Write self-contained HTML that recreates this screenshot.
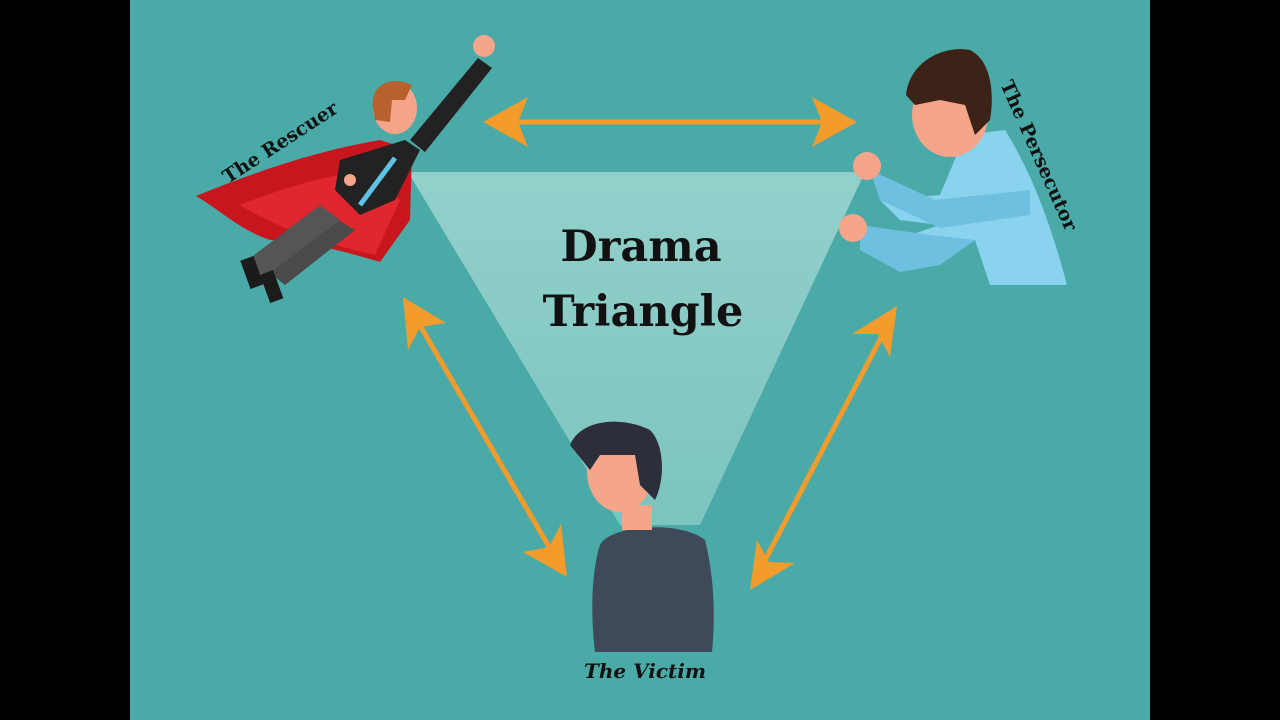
<!DOCTYPE html>
<html><head><meta charset="utf-8"><style>
html,body{margin:0;padding:0;background:#000;width:1280px;height:720px;overflow:hidden}
svg{display:block}
text{font-family:"DejaVu Serif","Liberation Serif",serif;font-weight:bold}
</style></head><body>
<svg width="1280" height="720" viewBox="0 0 1280 720">
<defs>
<linearGradient id="tg" x1="0" y1="0" x2="0" y2="1">
<stop offset="0" stop-color="#93d0cb"/><stop offset="1" stop-color="#7cc4bf"/>
</linearGradient>
</defs>
<rect x="0" y="0" width="1280" height="720" fill="#000"/>
<rect x="130" y="0" width="1020" height="720" fill="#4aaaa7"/>
<polygon points="408,172 865,172 700,525 620,525" fill="url(#tg)"/>
<g stroke="#f39b2b" stroke-width="5" fill="#f39b2b">
<line x1="510" y1="122" x2="830" y2="122"/>
<line x1="418" y1="322" x2="552" y2="552"/>
<line x1="885" y1="330" x2="762" y2="566"/>
</g>
<g fill="#f39b2b">
<polygon points="483,122 528,97 518,122 528,147"/>
<polygon points="857,122 812,97 822,122 812,147"/>
<polygon points="403,297 446,323 420,327 408,350"/>
<polygon points="567,577 523,552 549,547 561,524"/>
<polygon points="897,306 890,357 878,334 852,334"/>
<polygon points="750,590 757,540 769,562 795,563"/>
</g>
<text x="641" y="261" font-size="43" text-anchor="middle" fill="#111">Drama</text>
<text x="643" y="326" font-size="43" text-anchor="middle" fill="#111">Triangle</text>

<!-- Rescuer -->
<path d="M196,196 C260,170 320,150 380,140 L412,150 L410,220 L380,262 C340,250 300,240 270,240 C240,230 220,210 196,196Z" fill="#c8161e"/>
<path d="M240,205 C290,185 330,175 370,170 L400,200 L375,255 C330,245 280,230 240,205Z" fill="#e0262e"/>
<path d="M260,265 L330,215 L355,230 L285,285Z" fill="#4a4a4a"/>
<path d="M245,262 L320,205 L340,220 L265,277Z" fill="#555"/>
<rect x="244" y="258" width="14" height="30" fill="#1b1b1b" transform="rotate(-20 250 270)"/>
<rect x="264" y="272" width="14" height="30" fill="#1b1b1b" transform="rotate(-20 270 285)"/>
<path d="M340,160 L405,140 L420,150 L395,200 L360,215 L335,190Z" fill="#222"/>
<line x1="395" y1="158" x2="360" y2="205" stroke="#5fc3e6" stroke-width="5"/>
<path d="M410,140 L478,58 L492,68 L425,152Z" fill="#222"/>
<circle cx="484" cy="46" r="11" fill="#f4a58a"/>
<ellipse cx="395" cy="108" rx="22" ry="26" fill="#f4a58a"/>
<path d="M373,108 C370,85 390,75 412,85 L405,100 L392,100 L390,122 L375,120Z" fill="#b8602e"/>
<circle cx="350" cy="180" r="6" fill="#f4a58a"/>
<text font-size="19" fill="#111" transform="translate(228,184) rotate(-33)">The Rescuer</text>

<!-- Persecutor -->
<path d="M965,135 L1005,130 C1030,170 1050,220 1067,285 L990,285 L975,240 L900,270 L880,245 L940,225 L900,220 L880,200 L940,195 Z" fill="#8ad3ee"/>
<path d="M870,170 L935,200 L1030,190 L1030,215 L940,228 L880,200Z" fill="#6fbfe0"/>
<path d="M860,225 L930,235 L975,240 L940,265 L900,272 L860,250Z" fill="#6fbfe0"/>
<circle cx="867" cy="166" r="14" fill="#f4a58a"/>
<circle cx="853" cy="228" r="14" fill="#f4a58a"/>
<ellipse cx="950" cy="115" rx="38" ry="42" fill="#f4a58a"/>
<path d="M906,95 C910,60 945,45 970,50 C990,60 995,90 990,120 L975,135 L965,105 L940,100 L915,105Z" fill="#3d2218"/>
<text font-size="19" fill="#111" transform="translate(1000,84) rotate(66)">The Persecutor</text>

<!-- Victim -->
<path d="M600,545 C610,525 680,520 705,540 C715,580 715,620 712,652 L595,652 C590,610 592,570 600,545Z" fill="#3e4a5a"/>
<rect x="622" y="505" width="30" height="25" fill="#f4a58a"/>
<ellipse cx="620" cy="472" rx="33" ry="40" fill="#f4a58a"/>
<path d="M570,445 C580,420 620,415 650,430 C665,445 665,480 655,500 L640,485 L635,455 L600,455 L590,470 Z" fill="#2c2e3a"/>
<text x="645" y="678" font-size="20" font-style="italic" text-anchor="middle" fill="#111">The Victim</text>
</svg>
</body></html>
